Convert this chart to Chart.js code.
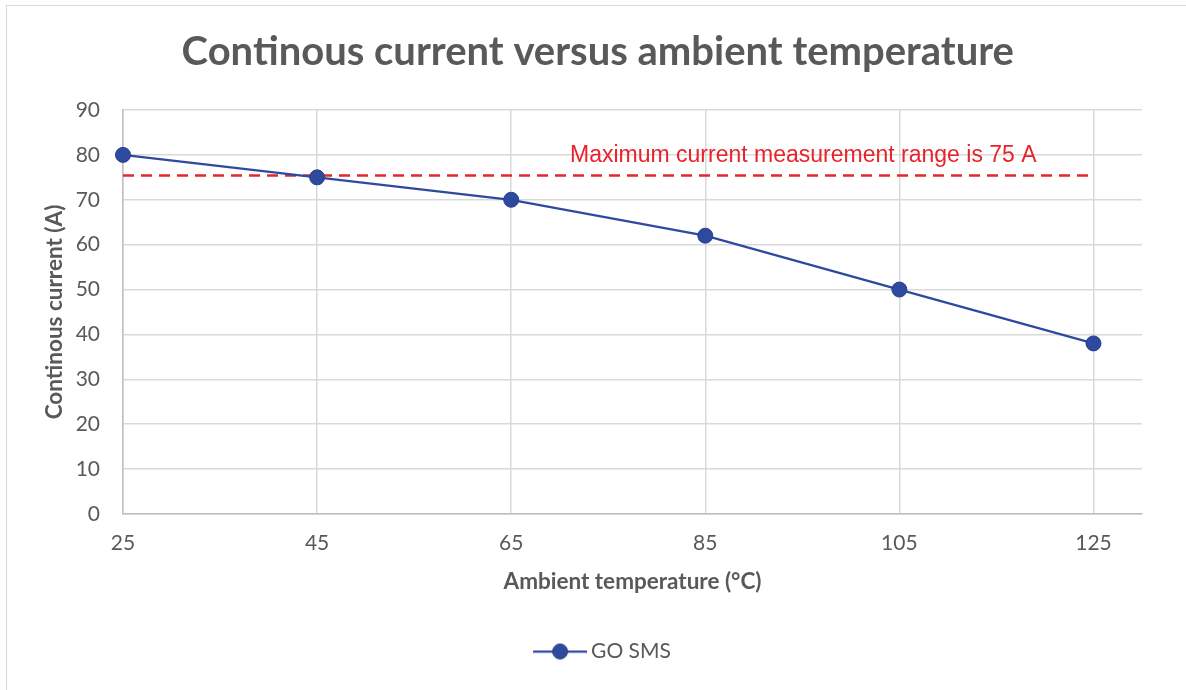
<!DOCTYPE html>
<html><head><meta charset="utf-8">
<script src="https://cdn.jsdelivr.net/npm/chart.js@4.4.1/dist/chart.umd.min.js"></script>
<style>
html,body{margin:0;padding:0;background:#fff;}
#wrap{position:relative;width:1186px;height:690px;overflow:hidden;background:#fff;}
#frame{position:absolute;left:6px;top:5px;width:1300px;height:800px;border:1px solid #d9d9d9;box-sizing:border-box;}
canvas{position:absolute;left:0;top:0;}
</style></head><body>
<div id="wrap"><div id="frame"></div><canvas id="c" width="1186" height="690"></canvas></div>
<script>
const chartTitle = 'Continous current versus ambient temperature';
const seriesName = 'GO SMS';
const xTitle = 'Ambient temperature (°C)';
const yTitle = 'Continous current (A)';
const temperatures = [25, 45, 65, 85, 105, 125];
const currents = [80, 75, 70, 62, 50, 38];
const limitTemps = [25, 125];
const limitCurrents = [75.4, 75.4];
const limitLabel = 'Maximum current measurement range is 75 A';
const limitLabelPos = [95.1, 78.5];
const xTicks = [25, 45, 65, 85, 105, 125];
const yTicks = [0, 10, 20, 30, 40, 50, 60, 70, 80, 90];

const BLUE = '#2E4A9E';
const RED = '#E0282E';
const GREY = '#595959';
const FONT = 'Lato';

function legendMarker() {
  const c = document.createElement('canvas');
  c.width = 69; c.height = 18;
  const g = c.getContext('2d');
  g.strokeStyle = BLUE; g.lineWidth = 2.25;
  g.beginPath(); g.moveTo(15, 9); g.lineTo(69, 9); g.stroke();
  g.fillStyle = BLUE; g.strokeStyle = '#263F8C'; g.lineWidth = 1;
  g.beginPath(); g.arc(42, 9, 7.5, 0, Math.PI * 2); g.fill(); g.stroke();
  return c;
}

const limitText = {
  id: 'limitText',
  afterDatasetsDraw(chart) {
    const {ctx, scales: {x, y}} = chart;
    ctx.save();
    ctx.font = '23px "Liberation Sans", Arial, sans-serif';
    ctx.fillStyle = '#E8232A';
    ctx.textAlign = 'center';
    ctx.textBaseline = 'alphabetic';
    ctx.fillText(limitLabel, x.getPixelForValue(limitLabelPos[0]), y.getPixelForValue(limitLabelPos[1]));
    ctx.restore();
  }
};

function build() {
  new Chart(document.getElementById('c'), {
    type: 'line',
    data: {
      datasets: [
        {
          label: seriesName,
          data: temperatures.map((t, i) => ({x: t, y: currents[i]})),
          borderColor: BLUE, backgroundColor: BLUE, borderWidth: 2.25,
          pointRadius: 7.5, pointHoverRadius: 7.5,
          pointBackgroundColor: BLUE, pointBorderColor: '#263F8C', pointBorderWidth: 1,
          tension: 0, order: 0, clip: false
        },
        {
          label: 'limit',
          data: limitTemps.map((t, i) => ({x: t, y: limitCurrents[i]})),
          borderColor: RED, borderWidth: 2.5, borderDash: [11, 7],
          pointRadius: 0, tension: 0, order: 1, clip: false
        }
      ]
    },
    options: {
      responsive: false, animation: false,
      layout: {padding: {top: 0, left: 53.5, right: 44, bottom: 18}},
      plugins: {
        title: {
          display: true, text: chartTitle, color: GREY,
          font: {family: FONT, size: 40, weight: 'bold', lineHeight: 1.2},
          padding: {top: 28, bottom: 34}
        },
        legend: {
          position: 'bottom',
          labels: {
            color: GREY, font: {family: FONT, size: 21},
            usePointStyle: true, pointStyleWidth: 56, padding: 10,
            filter: item => item.datasetIndex === 0,
            generateLabels: chart => [{
              text: seriesName, datasetIndex: 0, pointStyle: legendMarker(),
              fontColor: GREY, lineWidth: 0, hidden: false
            }]
          }
        },
        tooltip: {enabled: false}
      },
      scales: {
        x: {
          type: 'linear', min: 25, max: 130,
          afterBuildTicks: s => { s.ticks = xTicks.map(v => ({value: v})); },
          afterFit: s => { s.height = 117; },
          ticks: {color: GREY, font: {family: FONT, size: 21}, padding: 17, autoSkip: false},
          grid: {color: '#d9d9d9', lineWidth: 1.5, drawTicks: false},
          border: {color: '#bfbfbf', width: 1.5},
          title: {display: true, text: xTitle, color: GREY,
                  font: {family: FONT, size: 22.5, weight: 'bold', lineHeight: 1.2},
                  padding: {top: 0, bottom: 35.5}}
        },
        y: {
          min: 0, max: 90,
          afterBuildTicks: s => { s.ticks = yTicks.map(v => ({value: v})); },
          afterFit: s => { s.width = 69.5; },
          ticks: {color: GREY, font: {family: FONT, size: 21}, padding: 23},
          grid: {color: '#d9d9d9', lineWidth: 1.5, drawTicks: false},
          border: {color: '#bfbfbf', width: 1.5},
          title: {display: true, text: yTitle, color: GREY,
                  font: {family: FONT, size: 22.5, weight: 'bold', lineHeight: 1.2},
                  padding: {top: -12, bottom: 0}}
        }
      }
    },
    plugins: [limitText]
  });
}

Promise.all([
  document.fonts.load('bold 40px Lato'),
  document.fonts.load('21px Lato'),
  document.fonts.load('23px "Liberation Sans"')
]).then(build, build);
</script>
</body></html>
